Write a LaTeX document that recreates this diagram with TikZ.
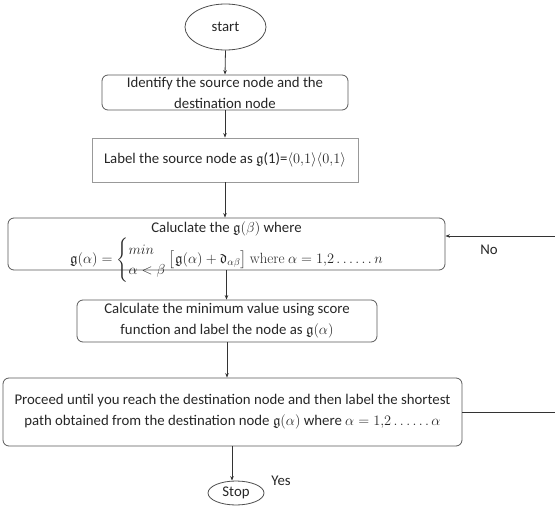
\documentclass[tikz,border=0pt]{standalone}
\usepackage{amsmath,amssymb}
\usepackage{fontspec}
\setmainfont{Carlito}
\newfontfamily\lmroman{Latin Modern Roman}
\usetikzlibrary{arrows.meta,shapes.geometric,calc}
\begin{document}
\begin{tikzpicture}[x=1pt,y=-1pt,
  every node/.style={font=\fontsize{14.8}{21}\selectfont, text=black!85, inner sep=0pt},
  rbox/.style={draw=black!65, line width=0.8pt, rounded corners=6pt, align=center},
  sbox/.style={draw=black!40, line width=0.8pt, align=center},
  oval/.style={draw=black!70, line width=0.8pt, ellipse, inner sep=0pt},
  arr/.style={draw=black!80, line width=0.8pt, -{Stealth[length=4.5pt,width=3.5pt]}}]
\useasboundingbox (0,0) rectangle (555,506);
\node[oval, minimum width=81pt, minimum height=46pt] (start) at (225.5,27) {start};
\node[rbox, minimum width=246pt, minimum height=35pt, text depth=0pt] (b1) at (225,92.5) {Identify the source node and the\\destination node};
\node[sbox, minimum width=266pt, minimum height=44pt] (b2) at (225,160) {Label the source node as $\mathfrak{g}$(1)=$\langle 0{,}1\rangle\langle 0{,}1\rangle$};
\node[rbox, minimum width=437pt, minimum height=52pt] (b3) at (226.5,244) {};
\node[align=center] (t3) at (226.5,252) {Caluclate the $\mathfrak{g}(\beta)$ where\\[1pt]
$\mathfrak{g}(\alpha) = \left\{\renewcommand{\arraystretch}{0.95}\begin{array}{@{}l@{}} min \\ \alpha<\beta\end{array}\right. \bigl[\mathfrak{g}(\alpha)+\mathfrak{d}_{\alpha\beta}\bigr]$ {\lmroman where} $\alpha = 1{,}2 \ldots\ldots n$};
\node[rbox, minimum width=300pt, minimum height=42pt] (b4) at (227,321) {Calculate the minimum value using score\\function and label the node as $\mathfrak{g}(\alpha)$};
\node[rbox, minimum width=459pt, minimum height=68pt] (b5) at (232.5,412) {Proceed until you reach the destination node and then label the shortest\\path obtained from the destination node $\mathfrak{g}(\alpha)$ where $\alpha = 1{,}2 \ldots\ldots \alpha$};
\node[oval, minimum width=56pt, minimum height=24pt] (stop) at (236,493) {Stop};
\node (yes) at (281,481) {Yes};
\node (no) at (489,250) {No};
\coordinate (fb) at (556,236);
\draw[arr] (start.south) -- (b1.north);
\draw[arr] (b1.south) -- (b2.north);
\draw[arr] (b2.south) -- (b2.south |- b3.north);
\draw[arr] (b3.south) -- (b3.south |- b4.north);
\draw[arr] (b4.south) -- (b4.south |- b5.north);
\draw[arr] (232,446) -- (stop.north -| 232,0);
\draw[arr] (b5.east) -- (b5.east -| fb) -- (fb) -- (fb -| b3.east);
\end{tikzpicture}
\end{document}
